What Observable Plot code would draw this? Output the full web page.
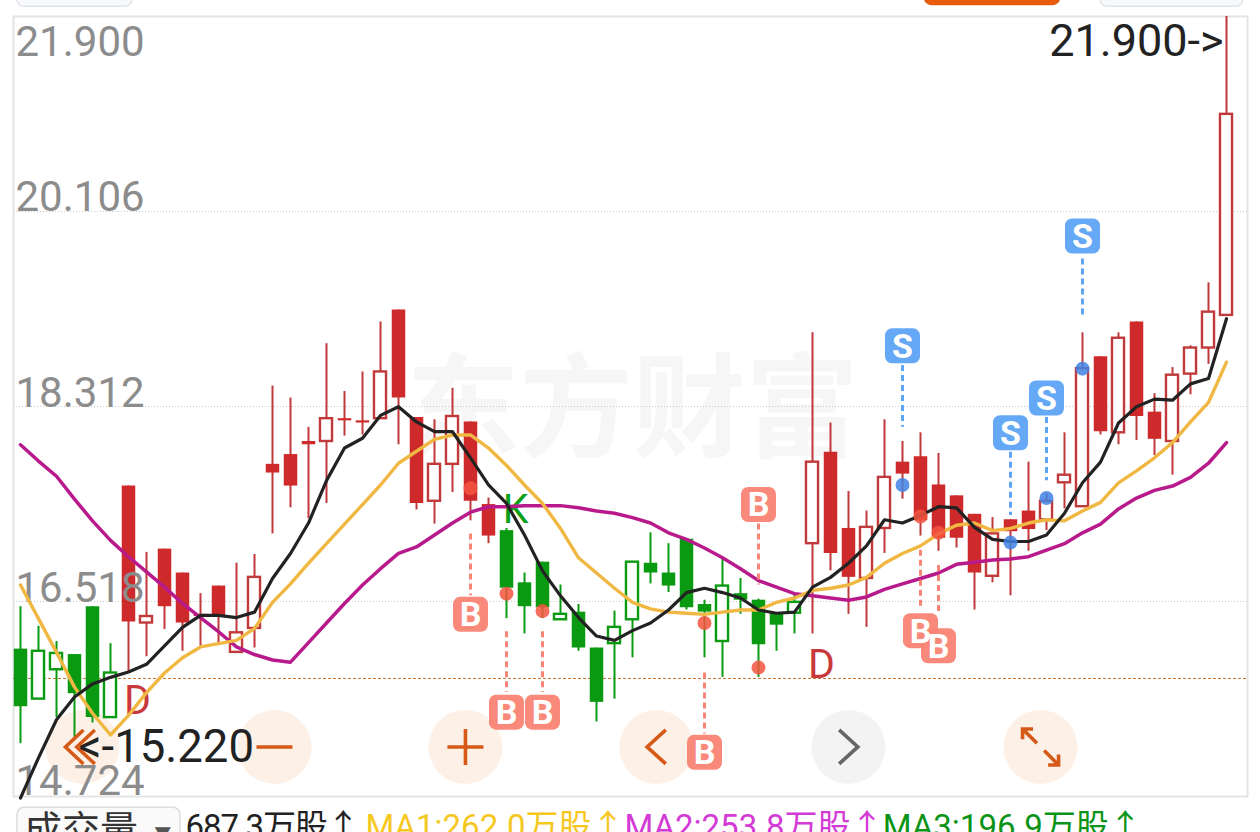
<!DOCTYPE html>
<html><head><meta charset="utf-8">
<style>html,body{margin:0;padding:0;background:#fff;overflow:hidden}svg{display:block}
.vol text{letter-spacing:-1.1px}</style>
<script src="https://cdn.jsdelivr.net/npm/d3@7"></script>
<script src="https://cdn.jsdelivr.net/npm/@observablehq/plot@0.6"></script>
</head><body><script>
const bodyTop=[16.08,16.06,16.04,16.03,16.47,15.86,17.58,16.38,17.00,16.78,16.40,16.66,16.23,16.74,17.78,17.87,17.99,18.20,18.20,18.18,18.63,19.20,18.21,17.78,18.22,18.17,17.41,17.17,16.69,16.88,16.40,16.42,16.09,16.28,16.88,16.87,16.78,17.09,16.49,16.66,16.59,16.53,16.41,16.51,17.80,17.89,17.19,17.20,17.66,17.80,17.85,17.59,17.49,17.32,17.14,17.27,17.35,17.44,17.68,18.66,18.77,18.94,19.09,18.26,18.60,18.85,19.18,21.00];
const bodyBottom=[15.55,15.62,15.89,15.67,15.45,15.45,16.33,16.32,16.47,16.32,16.38,16.39,16.05,16.27,17.70,17.58,17.96,17.99,18.18,18.16,18.20,18.39,17.42,17.44,17.78,17.44,17.12,16.64,16.47,16.46,16.35,16.09,15.59,16.13,16.35,16.78,16.66,16.46,16.42,16.15,16.53,16.12,16.30,16.41,17.05,16.96,16.74,16.73,17.19,17.69,17.26,17.10,17.10,16.78,16.75,17.16,17.18,17.27,17.61,17.39,18.08,18.07,18.22,18.01,17.99,18.61,18.85,19.15];
const wickHigh=[16.47,16.29,16.15,16.03,16.47,16.13,17.58,16.97,17.00,16.78,16.59,16.66,16.87,16.95,18.50,18.39,18.12,18.89,18.45,18.63,19.09,19.20,18.21,18.19,18.48,18.17,17.47,17.19,16.78,16.88,16.67,16.49,16.09,16.43,16.88,17.15,17.05,17.09,16.53,16.92,16.73,16.54,16.41,16.59,18.99,18.16,17.53,17.35,18.19,17.99,18.07,17.88,17.49,17.32,17.29,17.27,17.80,17.51,18.07,18.99,18.77,18.99,19.09,18.43,18.67,18.87,19.45,21.90];
const wickLow=[15.21,15.62,15.45,15.27,15.40,15.45,15.86,16.01,16.26,16.06,16.11,16.13,16.05,16.09,17.14,17.38,17.28,17.42,18.04,18.05,18.20,17.96,17.36,17.23,17.52,17.26,17.05,16.36,16.22,16.36,16.35,16.06,15.41,15.62,16.00,16.68,16.60,16.44,16.00,15.82,16.40,15.82,16.06,16.22,16.22,16.80,16.40,16.28,16.96,17.46,17.12,16.98,17.01,16.44,16.69,16.57,16.98,17.17,17.37,17.39,18.05,17.96,18.00,17.86,17.68,18.42,18.70,19.15];
const candleColor="ggggggrrrrrrrrrrrrrrrrrrrrrgggggggggggggggggrrrrrrrrrrrrrrrrrrrrrrrr".split("");
const hollowCandles=[1,2,5,7,12,13,17,20,23,24,30,33,34,39,43,44,47,48,54,57,58,59,61,64,65,66,67];
const maBlack=[14.71,15.08,15.43,15.64,15.76,15.82,15.87,15.94,16.11,16.28,16.39,16.39,16.37,16.42,16.73,16.96,17.24,17.63,17.93,18.02,18.23,18.31,18.17,18.08,18.08,17.84,17.59,17.42,17.13,16.80,16.57,16.37,16.20,16.16,16.25,16.32,16.44,16.60,16.64,16.60,16.55,16.44,16.41,16.42,16.65,16.74,16.87,17.03,17.27,17.24,17.31,17.39,17.38,17.20,17.09,17.07,17.07,17.13,17.33,17.61,17.80,18.16,18.31,18.38,18.37,18.52,18.57,19.12];
const maYellow=[16.67,16.36,16.05,15.73,15.49,15.29,15.47,15.68,15.86,16.00,16.10,16.13,16.16,16.27,16.51,16.68,16.87,17.05,17.23,17.41,17.59,17.79,17.90,18.01,18.05,18.05,17.93,17.77,17.59,17.42,17.19,16.92,16.78,16.64,16.51,16.45,16.42,16.41,16.40,16.42,16.44,16.44,16.51,16.55,16.62,16.64,16.67,16.74,16.87,16.96,17.03,17.14,17.22,17.24,17.17,17.19,17.24,17.27,17.26,17.35,17.43,17.61,17.72,17.84,17.98,18.17,18.35,18.72];
const maPurple=[17.96,17.81,17.67,17.46,17.26,17.08,16.93,16.79,16.65,16.50,16.37,16.24,16.10,16.03,15.98,15.96,16.14,16.32,16.50,16.67,16.82,16.96,17.02,17.13,17.24,17.34,17.39,17.39,17.40,17.40,17.40,17.38,17.35,17.33,17.29,17.24,17.15,17.09,17.01,16.92,16.82,16.71,16.65,16.59,16.57,16.55,16.53,16.56,16.63,16.68,16.73,16.78,16.86,16.88,16.90,16.91,16.93,16.99,17.05,17.15,17.23,17.37,17.47,17.54,17.58,17.66,17.79,17.98];
const signalLetter=["B","B","B","B","B","B","B","S","S","S","S"];
const signalIndex=[25,27,29,38,41,50,51,49,55,57,59];
const signalDot=[17.56,16.59,16.43,16.32,15.91,17.30,17.15,17.59,17.06,17.47,18.66];
const signalBadge=[16.40,15.50,15.50,15.13,17.41,16.25,16.11,18.87,18.07,18.39,19.88];
const dashFrom=[17.14,16.24,16.24,15.86,17.23,16.99,16.85,18.69,17.89,18.21,19.67];
const dashTo=[16.57,15.68,15.68,15.30,16.67,16.44,16.39,18.12,17.31,17.63,19.12];
const gridPrices=[20.106,18.312,16.518];
const axisPrices=[18.312,16.518];
const buttonX=[3.44,14.11,24.72,35.33,46,56.67];
const buttonY=15.18;
const lastLine=15.81;
const footer=[
 {t:"687.3万股↑",i:9.17,c:"#222222",cls:"vol"},
 {t:"MA1:262.0万股↑",i:19.16,c:"#f6c81f",cls:"ma"},
 {t:"MA2:253.8万股↑",i:33.55,c:"#d43ad6",cls:"ma"},
 {t:"MA3:196.9万股↑",i:47.9,c:"#0c9418",cls:"ma"}];

const candles=bodyTop.map((t,i)=>({i,t,b:bodyBottom[i],h:wickHigh[i],l:wickLow[i],c:candleColor[i]==="r"?"#cf2a2b":"#0a9a12",w:candleColor[i]==="r"?"#c0393b":"#0a9a12",hollow:hollowCandles.includes(i)}));
const signals=signalLetter.map((s,k)=>({s,i:signalIndex[k],dot:signalDot[k],badge:signalBadge[k],from:dashFrom[k],to:dashTo[k],c:s==="B"?"#f98576":"#5fa5f6",d:s==="B"?"#f3553f":"#3f82e3"}));
const series=a=>a.map((v,i)=>({i,v}));
const S=s=>Math.sqrt(s/Math.PI);
const roundSquare={draw(c,size){const r=S(size),k=7;c.moveTo(-r+k,-r);c.arcTo(r,-r,r,r,k);c.arcTo(r,r,-r,r,k);c.arcTo(-r,r,-r,-r,k);c.arcTo(-r,-r,r,-r,k);c.closePath();}};
const minus={draw(c,s){const r=S(s);c.moveTo(-r,0);c.lineTo(r,0);}};
const plus={draw(c,s){const r=S(s);c.moveTo(-r,0);c.lineTo(r,0);c.moveTo(0,-r);c.lineTo(0,r);}};
const chevL={draw(c,s){const r=S(s);c.moveTo(r*.55,-r);c.lineTo(-r*.55,0);c.lineTo(r*.55,r);}};
const chevR={draw(c,s){const r=S(s);c.moveTo(-r*.55,-r);c.lineTo(r*.55,0);c.lineTo(-r*.55,r);}};
const chevLL={draw(c,s){const r=S(s);for(const o of[-.47,.2]){c.moveTo(o*r+r*.53,-r);c.lineTo(o*r-r*.53,0);c.lineTo(o*r+r*.53,r);}}};
const expand={draw(c,s){const r=S(s),a=r*.58;c.moveTo(-r,-r+a);c.lineTo(-r,-r);c.lineTo(-r+a,-r);c.moveTo(-r,-r);c.lineTo(-r*.2,-r*.2);c.moveTo(r,r-a);c.lineTo(r,r);c.lineTo(r-a,r);c.moveTo(r,r);c.lineTo(r*.2,r*.2);}};
const iconAt=(i,symbol,r,stroke="#d65a17")=>Plot.dot([0],{x:()=>buttonX[i],y:()=>buttonY,symbol,r,stroke,fill:"none",strokeWidth:3.6});
const txt=(t,i,p,o={})=>Plot.text([t],{x:()=>i,y:()=>p,text:d=>d,lineAnchor:"bottom",...o});
const panel=(x1,x2,y1,y2,fill,stroke)=>Plot.rect([0],{x1:()=>x1,x2:()=>x2,y1:()=>y1,y2:()=>y2,fill,stroke,strokeWidth:1.5,rx:7});
const priceAxis=(ticks,dy)=>Plot.axisY({anchor:"left",ticks,tickFormat:".3f",tickSize:0,tickPadding:0,dx:2,dy,textAnchor:"start",lineAnchor:"bottom",fontSize:42,color:"#8c8c8c",label:null});

const svg=Plot.plot({
 width:1260,height:832,marginTop:16,marginLeft:13,marginRight:13,marginBottom:36,
 style:{fontFamily:'Roboto,"Noto Sans CJK SC",sans-serif',background:"#fff",overflow:"hidden"},
 x:{type:"linear",domain:[0,67],range:[20,1226],axis:null},
 y:{type:"linear",domain:[14.724,21.9],range:[796,16],axis:null},
 marks:[
  panel(-0.17,6.22,22.14,21.99,"#f8f9fb","#e2e4e8"),
  panel(50.22,57.78,22.14,22.0,"#e85b0b","none"),
  panel(60,67.94,22.14,21.99,"#f8f9fb","#e2e4e8"),
  Plot.frame({stroke:"#e4e4e4",strokeWidth:2}),
  txt("东方财富",34,17.93,{fontSize:113,fontWeight:700,fill:"#f6f6f6",textAnchor:"middle"}),
  Plot.ruleY(gridPrices,{stroke:"#c9c9c9",strokeDasharray:"1,2"}),
  Plot.ruleY([lastLine],{stroke:"#c9772f",strokeDasharray:"3,2"}),
  Plot.dot(buttonX,{x:d=>d,y:()=>buttonY,r:37,fill:(d,k)=>k===4?"#f3f3f3":"#fdf0e7"}),
  Plot.ruleX(candles,{x:"i",y1:"l",y2:"h",stroke:"w",strokeWidth:2}),
  Plot.rect(candles.filter(d=>d.hollow),{x1:d=>d.i-.335,x2:d=>d.i+.335,y1:"b",y2:"t",fill:"#fff",stroke:"w",strokeWidth:2.4}),
  Plot.ruleX(candles.filter(d=>!d.hollow),{x:"i",y1:"b",y2:"t",stroke:"c",strokeWidth:13.5}),
  priceAxis([21.9],39),
  priceAxis([20.106],-1),
  priceAxis(axisPrices,0),
  priceAxis([14.724],-2),
  txt("D",6.5,15.48,{fontSize:41,fill:"#c8383a",textAnchor:"middle"}),
  txt("D",44.5,15.81,{fontSize:41,fill:"#c8383a",textAnchor:"middle"}),
  txt("K",27.5,17.24,{fontSize:41,fill:"#0aa01a",textAnchor:"middle"}),
  Plot.line(series(maPurple),{x:"i",y:"v",stroke:"#b81a8c",strokeWidth:3.5}),
  Plot.line(series(maYellow),{x:"i",y:"v",stroke:"#f0b842",strokeWidth:3.4}),
  Plot.line(series(maBlack),{x:"i",y:"v",stroke:"#222222",strokeWidth:3.2}),
  Plot.ruleX(signals,{x:"i",y1:"from",y2:"to",stroke:"c",strokeWidth:3,strokeDasharray:"6,4"}),
  Plot.dot(signals,{x:"i",y:"dot",r:7,fill:"d",fillOpacity:.85}),
  Plot.dot(signals,{x:"i",y:"badge",r:17.5,symbol:roundSquare,fill:"c",fillOpacity:.96}),
  Plot.text(signals,{x:"i",y:"badge",text:"s",fill:"#fff",fontSize:34,fontWeight:700,dy:1}),
  iconAt(0,chevLL,17),iconAt(1,minus,18),iconAt(2,plus,18),iconAt(3,chevL,17),iconAt(4,chevR,17,"#666666"),iconAt(5,expand,18),
  txt("21.900->",67,21.9,{fontSize:45,fill:"#222",textAnchor:"end",dy:39,dx:-3}),
  txt("<-15.220",3.22,15.04,{fontSize:45.5,fill:"#222",textAnchor:"start"}),
  panel(-0.17,8.89,14.62,14.13,"#fafafa","#dddddd"),
  txt("成交量",0.2,14.30,{fontSize:38,fill:"#333",textAnchor:"start"}),
  txt("▼",7.9,14.32,{fontSize:17,fill:"#555",textAnchor:"middle"}),
  ...footer.map(f=>txt(f.t,f.i,14.34,{fill:f.c,fontSize:33,textAnchor:"start",className:f.cls}))
 ]
});
document.body.appendChild(svg);
</script></body></html>
